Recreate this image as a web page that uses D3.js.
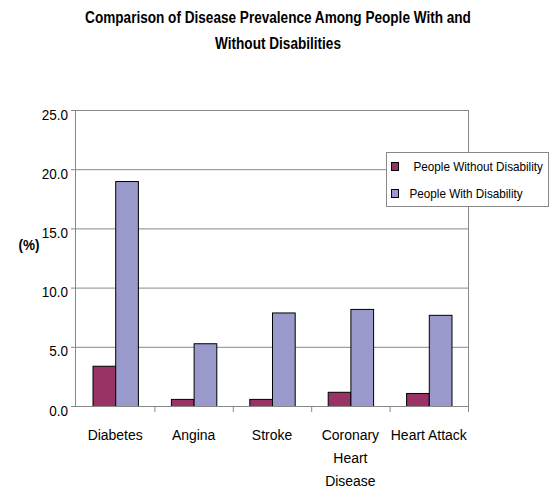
<!DOCTYPE html>
<html>
<head>
<meta charset="utf-8">
<script src="https://cdn.jsdelivr.net/npm/d3@7"></script>
<style>
  body { margin: 0; background: #fff; }
  svg text { font-family: "Liberation Sans", Arial, sans-serif; fill: #000; }
  .grid line { stroke: #888; stroke-width: 1; }
  .grid path { display: none; }
  .axis path, .axis line { stroke: #888; }
</style>
</head>
<body>
<div id="chart"></div>
<script>
(function () {
  const categories = ["Diabetes", "Angina", "Stroke", "Coronary Heart Disease", "Heart Attack"];
  const tickLabels = [["Diabetes"], ["Angina"], ["Stroke"], ["Coronary", "Heart", "Disease"], ["Heart Attack"]];
  const series = ["People Without Disability", "People With Disability"];
  const withoutDisability = [3.4, 0.6, 0.6, 1.2, 1.1];
  const withDisability = [19.0, 5.3, 7.9, 8.2, 7.7];
  const yTicks = [0, 5, 10, 15, 20, 25];
  const colors = ["#993366", "#9999CC"];

  const width = 556, height = 489;
  const margin = {top: 110, right: 88, bottom: 83, left: 76};
  const plotW = width - margin.left - margin.right;
  const plotH = height - margin.top - margin.bottom;

  const values = [withoutDisability, withDisability];
  const data = categories.map(function (c, i) {
    return {cat: c, vals: series.map(function (s, j) { return {key: s, value: values[j][i]}; })};
  });

  // the original lettering is a bit condensed
  function condense(k) {
    return function (sel) {
      sel.each(function () {
        const len = this.getComputedTextLength();
        this.setAttribute("textLength", len * k);
        this.setAttribute("lengthAdjust", "spacingAndGlyphs");
      });
    };
  }

  const svg = d3.select("#chart").append("svg")
    .attr("width", width)
    .attr("height", height);

  // title (squeezed horizontally like a narrow face)
  const titleLines = ["Comparison of Disease Prevalence Among People With and", "Without Disabilities"];
  svg.append("g")
    .attr("transform", "translate(278,0) scale(0.8,1)")
    .selectAll(".title")
    .data(titleLines)
    .enter().append("text")
    .attr("class", "title")
    .attr("x", 0)
    .attr("y", function (d, i) { return 23 + i * 26; })
    .attr("text-anchor", "middle")
    .style("font-weight", "bold")
    .style("font-size", "17px")
    .text(function (d) { return d; });

  const g = svg.append("g")
    .attr("transform", "translate(" + margin.left + "," + margin.top + ")");

  const x0 = d3.scaleBand()
    .domain(categories)
    .range([0, plotW])
    .padding(0);

  const x1 = d3.scaleBand()
    .domain(series)
    .range([0, x0.bandwidth()])
    .paddingInner(0)
    .paddingOuter(0.727);

  const y = d3.scaleLinear()
    .domain([0, 25])
    .range([plotH, 0]);

  // gridlines
  g.append("g")
    .attr("class", "grid")
    .call(d3.axisLeft(y).tickValues(yTicks.slice(1)).tickSize(-plotW).tickFormat(""));

  // right border of plot area
  g.append("line")
    .attr("x1", plotW + 0.5).attr("x2", plotW + 0.5)
    .attr("y1", 0).attr("y2", plotH)
    .attr("stroke", "#888");

  // bars
  const groups = g.selectAll(".group")
    .data(data)
    .enter().append("g")
    .attr("transform", function (d) { return "translate(" + x0(d.cat) + ",0)"; });

  groups.selectAll("rect")
    .data(function (d) { return d.vals; })
    .enter().append("rect")
    .attr("x", function (d) { return x1(d.key) + 0.5; })
    .attr("y", function (d) { return y(d.value) + 0.5; })
    .attr("width", x1.bandwidth())
    .attr("height", function (d) { return plotH - y(d.value); })
    .attr("fill", function (d, i) { return colors[i]; })
    .attr("stroke", "#000")
    .attr("stroke-width", 1);

  // y axis
  const yAxis = g.append("g")
    .attr("class", "axis")
    .call(d3.axisLeft(y).tickValues(yTicks).tickFormat(d3.format(".1f")).tickSize(5).tickPadding(3));
  yAxis.selectAll("text")
    .style("font-size", "15px")
    .attr("dy", "0.6em")
    .call(condense(0.9));
  yAxis.select(".domain").attr("d", "M-0.5,0V" + plotH);

  // x axis line + boundary ticks
  const xAxis = g.append("g")
    .attr("class", "axis")
    .attr("transform", "translate(0," + plotH + ")");
  xAxis.append("line")
    .attr("x1", -4).attr("x2", plotW)
    .attr("y1", 0.5).attr("y2", 0.5);
  xAxis.selectAll(".btick")
    .data(categories)
    .enter().append("line")
    .attr("class", "btick")
    .attr("x1", function (d) { return x0(d) + x0.step() + 0.5; })
    .attr("x2", function (d) { return x0(d) + x0.step() + 0.5; })
    .attr("y1", 0).attr("y2", 6);

  // category labels
  categories.forEach(function (c, i) {
    xAxis.selectAll(null)
      .data(tickLabels[i])
      .enter().append("text")
      .attr("x", x0(c) + x0.bandwidth() / 2)
      .attr("y", function (d, k) { return 34 + k * 23; })
      .attr("text-anchor", "middle")
      .style("font-size", "15.5px")
      .text(function (d) { return d; })
      .call(condense(0.9));
  });

  // y label
  svg.append("text")
    .attr("x", 29)
    .attr("y", 250)
    .attr("text-anchor", "middle")
    .style("font-weight", "bold")
    .style("font-size", "15px")
    .text("(%)")
    .call(condense(0.9));

  // legend
  const legend = svg.append("g").attr("transform", "translate(386.5,152.5)");
  legend.append("rect")
    .attr("width", 162)
    .attr("height", 54)
    .attr("fill", "#fff")
    .attr("stroke", "#888");
  const items = legend.selectAll(".item")
    .data(series)
    .enter().append("g")
    .attr("transform", function (d, i) { return "translate(5," + (10 + i * 27) + ")"; });
  items.append("rect")
    .attr("width", 7)
    .attr("height", 8)
    .attr("fill", function (d, i) { return colors[i]; })
    .attr("stroke", "#000");
  items.append("text")
    .attr("x", function (d, i) { return i === 0 ? 22 : 18; })
    .attr("y", 4)
    .attr("dy", "0.35em")
    .style("font-size", "13px")
    .text(function (d) { return d; })
    .call(condense(0.9));
})();
</script>
</body>
</html>
